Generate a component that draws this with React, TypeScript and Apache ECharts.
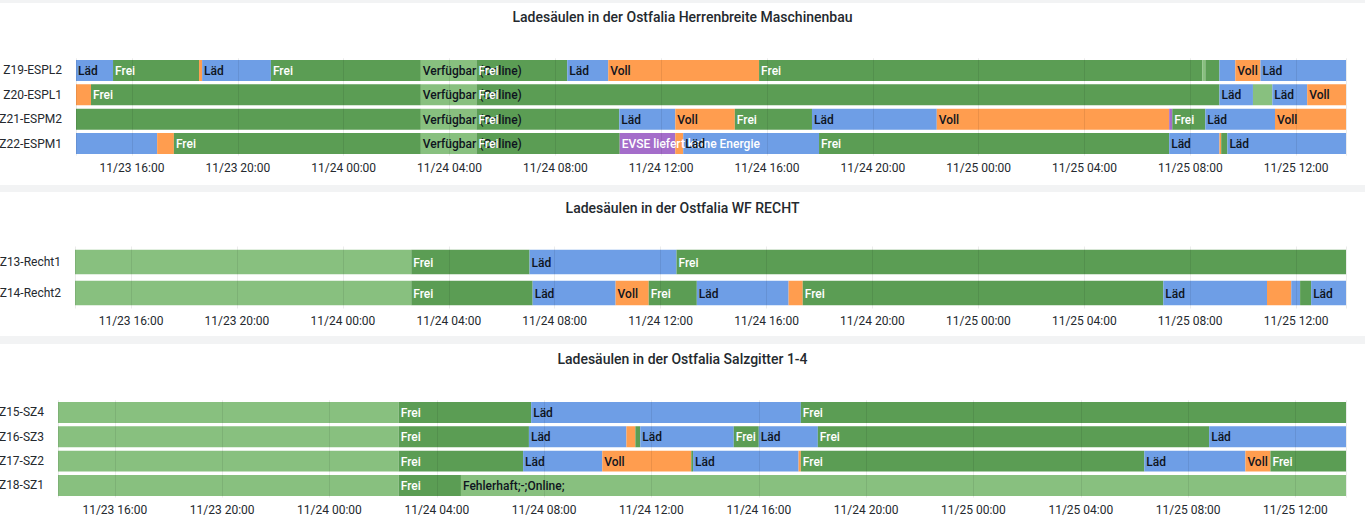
import React, { useEffect, useRef } from "react";
import * as echarts from "echarts";

const YEAR = 2023;
const rangeStart = "11-23 13:53";
const rangeEnd = "11-25 13:53";

const panelTitles = [
  "Ladesäulen in der Ostfalia Herrenbreite Maschinenbau",
  "Ladesäulen in der Ostfalia WF RECHT",
  "Ladesäulen in der Ostfalia Salzgitter 1-4",
];

const rowsHerrenbreite = ["Z19-ESPL2", "Z20-ESPL1", "Z21-ESPM2", "Z22-ESPM1"];
const rowsRecht = ["Z13-Recht1", "Z14-Recht2"];
const rowsSalzgitter = ["Z15-SZ4", "Z16-SZ3", "Z17-SZ2", "Z18-SZ1"];

type Seg = [string, string, string, number];

const z19: Seg[] = [
  ["11-23 13:53", "11-23 15:17", "Läd", 1],
  ["11-23 15:17", "11-23 18:32", "Frei", 1],
  ["11-23 18:32", "11-23 18:39", "Voll", 0],
  ["11-23 18:39", "11-23 21:15", "Läd", 1],
  ["11-23 21:15", "11-24 02:55", "Frei", 1],
  ["11-24 02:55", "11-24 05:01", "Verfügbar (Online)", 1],
  ["11-24 05:01", "11-24 08:27", "Frei", 1],
  ["11-24 08:27", "11-24 10:00", "Läd", 1],
  ["11-24 10:00", "11-24 15:42", "Voll", 1],
  ["11-24 15:42", "11-25 08:27", "Frei", 1],
  ["11-25 08:27", "11-25 08:34", "Verfügbar (Online)", 0],
  ["11-25 08:34", "11-25 09:06", "Frei", 0],
  ["11-25 09:06", "11-25 09:42", "Läd", 0],
  ["11-25 09:42", "11-25 10:39", "Voll", 1],
  ["11-25 10:39", "11-25 13:53", "Läd", 1],
];
const z20: Seg[] = [
  ["11-23 13:53", "11-23 14:27", "Voll", 0],
  ["11-23 14:27", "11-24 02:55", "Frei", 1],
  ["11-24 02:55", "11-24 05:01", "Verfügbar (Online)", 1],
  ["11-24 05:01", "11-25 09:06", "Frei", 1],
  ["11-25 09:06", "11-25 10:22", "Läd", 1],
  ["11-25 10:22", "11-25 11:06", "Verfügbar (Online)", 0],
  ["11-25 11:06", "11-25 12:25", "Läd", 1],
  ["11-25 12:25", "11-25 13:53", "Voll", 1],
];
const z21: Seg[] = [
  ["11-23 13:53", "11-24 02:55", "Frei", 0],
  ["11-24 02:55", "11-24 05:01", "Verfügbar (Online)", 1],
  ["11-24 05:01", "11-24 10:25", "Frei", 1],
  ["11-24 10:25", "11-24 12:32", "Läd", 1],
  ["11-24 12:32", "11-24 14:47", "Voll", 1],
  ["11-24 14:47", "11-24 17:42", "Frei", 1],
  ["11-24 17:42", "11-24 22:25", "Läd", 1],
  ["11-24 22:25", "11-25 07:12", "Voll", 1],
  ["11-25 07:12", "11-25 07:19", "EVSE liefert keine Energie", 0],
  ["11-25 07:19", "11-25 08:34", "Frei", 1],
  ["11-25 08:34", "11-25 11:12", "Läd", 1],
  ["11-25 11:12", "11-25 13:53", "Voll", 1],
];
const z22: Seg[] = [
  ["11-23 13:53", "11-23 16:57", "Läd", 0],
  ["11-23 16:57", "11-23 17:35", "Voll", 0],
  ["11-23 17:35", "11-24 02:55", "Frei", 1],
  ["11-24 02:55", "11-24 05:01", "Verfügbar (Online)", 1],
  ["11-24 05:01", "11-24 10:26", "Frei", 1],
  ["11-24 10:26", "11-24 12:32", "EVSE liefert keine Energie", 1],
  ["11-24 12:32", "11-24 12:50", "Voll", 0],
  ["11-24 12:50", "11-24 17:58", "Läd", 1],
  ["11-24 17:58", "11-25 07:12", "Frei", 1],
  ["11-25 07:12", "11-25 09:06", "Läd", 1],
  ["11-25 09:06", "11-25 09:10", "Voll", 0],
  ["11-25 09:10", "11-25 09:24", "Frei", 0],
  ["11-25 09:24", "11-25 13:53", "Läd", 1],
];

const z13: Seg[] = [
  ["11-23 13:53", "11-24 02:35", "Verfügbar (Online)", 0],
  ["11-24 02:35", "11-24 07:03", "Frei", 1],
  ["11-24 07:03", "11-24 12:36", "Läd", 1],
  ["11-24 12:36", "11-25 13:53", "Frei", 1],
];
const z14: Seg[] = [
  ["11-23 13:53", "11-24 02:35", "Verfügbar (Online)", 0],
  ["11-24 02:35", "11-24 07:10", "Frei", 1],
  ["11-24 07:10", "11-24 10:18", "Läd", 1],
  ["11-24 10:18", "11-24 11:33", "Voll", 1],
  ["11-24 11:33", "11-24 13:22", "Frei", 1],
  ["11-24 13:22", "11-24 16:50", "Läd", 1],
  ["11-24 16:50", "11-24 17:22", "Voll", 0],
  ["11-24 17:22", "11-25 06:59", "Frei", 1],
  ["11-25 06:59", "11-25 10:54", "Läd", 1],
  ["11-25 10:54", "11-25 11:49", "Voll", 0],
  ["11-25 11:49", "11-25 12:09", "Läd", 0],
  ["11-25 12:09", "11-25 12:34", "Frei", 0],
  ["11-25 12:34", "11-25 13:53", "Läd", 1],
];

const z15: Seg[] = [
  ["11-23 13:53", "11-24 02:35", "Verfügbar (Online)", 0],
  ["11-24 02:35", "11-24 07:31", "Frei", 1],
  ["11-24 07:31", "11-24 17:34", "Läd", 1],
  ["11-24 17:34", "11-25 13:53", "Frei", 1],
];
const z16: Seg[] = [
  ["11-23 13:53", "11-24 02:35", "Verfügbar (Online)", 0],
  ["11-24 02:35", "11-24 07:26", "Frei", 1],
  ["11-24 07:26", "11-24 11:04", "Läd", 1],
  ["11-24 11:04", "11-24 11:24", "Voll", 0],
  ["11-24 11:24", "11-24 11:35", "Frei", 0],
  ["11-24 11:35", "11-24 15:04", "Läd", 1],
  ["11-24 15:04", "11-24 16:00", "Frei", 1],
  ["11-24 16:00", "11-24 18:12", "Läd", 1],
  ["11-24 18:12", "11-25 08:47", "Frei", 1],
  ["11-25 08:47", "11-25 13:53", "Läd", 1],
];
const z17: Seg[] = [
  ["11-23 13:53", "11-24 02:35", "Verfügbar (Online)", 0],
  ["11-24 02:35", "11-24 07:13", "Frei", 1],
  ["11-24 07:13", "11-24 10:10", "Läd", 1],
  ["11-24 10:10", "11-24 13:29", "Voll", 1],
  ["11-24 13:29", "11-24 13:33", "Frei", 0],
  ["11-24 13:33", "11-24 17:29", "Läd", 1],
  ["11-24 17:29", "11-24 17:34", "Voll", 0],
  ["11-24 17:34", "11-25 06:22", "Frei", 1],
  ["11-25 06:22", "11-25 10:08", "Läd", 1],
  ["11-25 10:08", "11-25 11:04", "Voll", 1],
  ["11-25 11:04", "11-25 13:53", "Frei", 1],
];
const z18: Seg[] = [
  ["11-23 13:53", "11-24 02:35", "Verfügbar (Online)", 0],
  ["11-24 02:35", "11-24 04:54", "Frei", 1],
  ["11-24 04:54", "11-25 13:53", "Fehlerhaft;-;Online;", 1],
];

const stateColors: Record<string, string> = {
  "Frei": "#5b9d54",
  "Läd": "#6e9ee6",
  "Voll": "#ff9d4f",
  "Verfügbar (Online)": "#88c07f",
  "EVSE liefert keine Energie": "#a46dca",
  "Fehlerhaft;-;Online;": "#88c07f",
};
const stateTextColors: Record<string, string> = {
  "Frei": "#ffffff",
  "Läd": "#0f1420",
  "Voll": "#0f1420",
  "Verfügbar (Online)": "#0f1420",
  "EVSE liefert keine Energie": "#ffffff",
  "Fehlerhaft;-;Online;": "#0f1420",
};

function ts(s: string): number {
  const [md, hm] = s.split(" ");
  const [mo, d] = md.split("-").map(Number);
  const [h, m] = hm.split(":").map(Number);
  return Date.UTC(YEAR, mo - 1, d, h, m);
}

function pad(n: number) {
  return n < 10 ? "0" + n : "" + n;
}

const FONT = "Roboto, 'Noto Sans', sans-serif";

export default function App() {
  const ref = useRef<HTMLDivElement>(null);
  useEffect(() => {
    document.body.style.margin = "0";
    if (!ref.current) return;
    const chart = echarts.init(ref.current, undefined, { renderer: "svg" });

    const panels = [
      { rows: rowsHerrenbreite, segs: [z19, z20, z21, z22], left: 76, top: 58.3, height: 97.4, ratio: 0.86 },
      { rows: rowsRecht, segs: [z13, z14], left: 75, top: 246.5, height: 62, ratio: 0.79 },
      { rows: rowsSalzgitter, segs: [z15, z16, z17, z18], left: 58, top: 400.3, height: 97.3, ratio: 0.86 },
    ];

    const grids: any[] = [];
    const xAxes: any[] = [];
    const yAxes: any[] = [];
    const series: any[] = [];

    panels.forEach((p, pi) => {
      grids.push({
        left: p.left,
        right: 19,
        top: p.top,
        height: p.height,
        containLabel: false,
        outerBoundsMode: "none",
      });
      xAxes.push({
        type: "time",
        gridIndex: pi,
        min: ts(rangeStart),
        max: ts(rangeEnd),
        splitNumber: 12,
        minInterval: 4 * 3600 * 1000,
        maxInterval: 4 * 3600 * 1000,
        z: 5,
        axisLine: { show: false },
        axisTick: { show: false },
        splitLine: { show: true, lineStyle: { color: "rgba(0,0,0,0.08)", width: 1 } },
        axisLabel: {
          margin: 6,
          lineHeight: 12,
          showMinLabel: false,
          showMaxLabel: false,
          color: "#24292e",
          fontSize: 12,
          fontFamily: FONT,
          hideOverlap: false,
          formatter: (v: number) => {
            const d = new Date(v);
            if (d.getUTCMinutes() !== 0 || d.getUTCHours() % 4 !== 0) return "";
            return `${pad(d.getUTCMonth() + 1)}/${pad(d.getUTCDate())} ${pad(d.getUTCHours())}:${pad(d.getUTCMinutes())}`;
          },
        },
      });
      yAxes.push({
        type: "category",
        gridIndex: pi,
        data: p.rows,
        inverse: true,
        axisLine: { show: false },
        axisTick: { show: false },
        splitLine: { show: false },
        axisLabel: { margin: 14, color: "#24292e", fontSize: 12, fontFamily: FONT },
      });

      const flat: { row: number; s: number; e: number; state: string; show: number }[] = [];
      p.segs.forEach((rowSegs, ri) => {
        rowSegs.forEach((sg) => {
          flat.push({ row: ri, s: ts(sg[0]), e: ts(sg[1]), state: sg[2], show: sg[3] });
        });
      });

      series.push({
        type: "custom",
        xAxisIndex: pi,
        yAxisIndex: pi,
        clip: true,
        z: 2,
        encode: { x: [1, 2], y: 0 },
        data: flat.map((f) => [f.row, f.s, f.e]),
        renderItem: (params: any, api: any) => {
          const f = flat[params.dataIndex];
          const row = api.value(0);
          const a = api.coord([api.value(1), row]);
          const b = api.coord([api.value(2), row]);
          const band = api.size([0, 1])[1];
          const h = band * p.ratio;
          const children: any[] = [
            {
              type: "rect",
              shape: { x: a[0], y: a[1] - h / 2, width: Math.max(b[0] - a[0], 0.5), height: h },
              style: { fill: stateColors[f.state] },
              z2: 0,
            },
          ];
          if (f.show) {
            children.push({
              type: "text",
              x: a[0] + 2,
              y: a[1] + 0.5,
              z2: 10,
              style: {
                text: f.state,
                fill: stateTextColors[f.state],
                fontSize: 12,
                fontWeight: 500,
                fontFamily: FONT,
                align: "left",
                verticalAlign: "middle",
              },
            });
          }
          return { type: "group", children };
        },
      });
    });

    const bandColor = "#f2f3f4";
    chart.setOption({
      animation: false,
      useUTC: true,
      backgroundColor: "#ffffff",
      title: panelTitles.map((t, i) => ({
        text: t,
        left: "center",
        top: [10, 201, 352][i],
        padding: 0,
        textStyle: { fontSize: 14, fontWeight: 500, fontFamily: FONT, color: "#24292e" },
      })),
      grid: grids,
      xAxis: xAxes,
      yAxis: yAxes,
      series,
      graphic: [
        { type: "rect", shape: { x: 0, y: 0, width: 1365, height: 3 }, style: { fill: bandColor } },
        { type: "rect", shape: { x: 0, y: 185, width: 1365, height: 7 }, style: { fill: bandColor } },
        { type: "rect", shape: { x: 0, y: 336, width: 1365, height: 8 }, style: { fill: bandColor } },
      ],
    });
    return () => chart.dispose();
  }, []);
  return (
    <div
      ref={ref}
      style={{ position: "fixed", left: 0, top: 0, width: 1365, height: 516, background: "#fff" }}
    />
  );
}
